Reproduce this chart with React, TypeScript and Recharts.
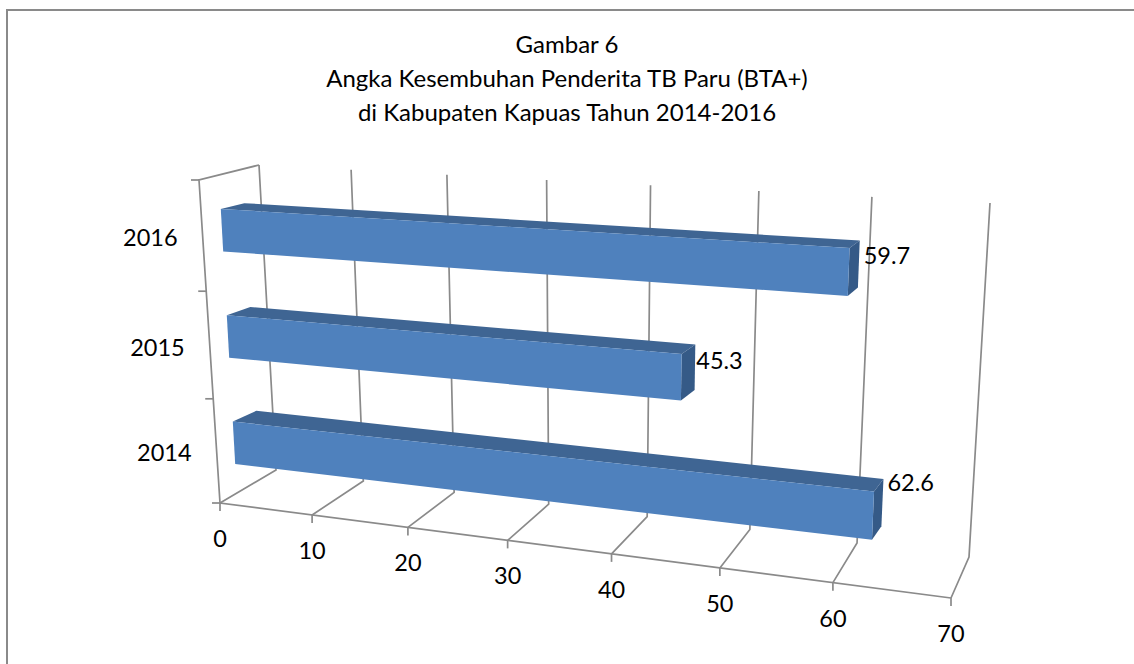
import { BarChart, Bar, XAxis, YAxis, LabelList } from "recharts";

const years = ["2014", "2015", "2016"];
const cureRates = [62.6, 45.3, 59.7];
const valueTicks = [0, 10, 20, 30, 40, 50, 60, 70];
const titleLines = [
  "Gambar 6",
  "Angka Kesembuhan Penderita TB Paru (BTA+)",
  "di Kabupaten Kapuas Tahun 2014-2016",
];

const data = years.map((year, i) => ({ year, rate: cureRates[i] }));

// flat plot area recharts lays out, everything is projected from here
const W = 1134;
const H = 664;
const PLOT = { left: 100, top: 100, width: 700, height: 300 };
const GRID = "#8a8a8a";

type Pt = [number, number];

// foreshortening along the value axis
const persp = (t: number, w = 0.865) => (t * w) / (1 - t + t * w);
const mix = (a: Pt, b: Pt, t: number): Pt => [a[0] + (b[0] - a[0]) * t, a[1] + (b[1] - a[1]) * t];
const quad = (tl: Pt, tr: Pt, bl: Pt, br: Pt, p: number, v: number) =>
  mix(mix(bl, br, p), mix(tl, tr, p), v);
const path = (pts: Pt[]) => "M" + pts.map((q) => `${q[0]},${q[1]}`).join("L") + "Z";

const toP = (x: number) => persp((x - PLOT.left) / PLOT.width);
const toV = (y: number) => 1 - (y - PLOT.top) / PLOT.height;

// front and back planes of the bars
const front = (p: number, v: number) => quad([219, 177], [977, 219], [237, 496], [957, 587], p, v);
const back = (p: number, v: number) => quad([242.5, 172], [984.5, 212], [260.5, 483.5], [964.5, 572.5], p, v);

// floor and walls of the box
const FLOOR_FRONT: [Pt, Pt] = [[220, 503], [951, 598]];
const FLOOR_BACK: [Pt, Pt] = [[276, 470], [969, 557]];
const WALL_TOP: [Pt, Pt] = [[259, 165], [990, 203]];
const LEFT_TOP: Pt = [199, 180];

function Box3D(props: any) {
  const { x, y, width, height } = props;
  const p0 = toP(x);
  const p1 = toP(x + width);
  const vt = toV(y);
  const vb = toV(y + height);
  return (
    <g>
      <path d={path([front(p0, vt), front(p1, vt), back(p1, vt), back(p0, vt)])} fill="#3F6593" />
      <path d={path([front(p1, vt), back(p1, vt), back(p1, vb), front(p1, vb)])} fill="#355A87" />
      <path d={path([front(p0, vt), front(p1, vt), front(p1, vb), front(p0, vb)])} fill="#4F81BD" />
    </g>
  );
}

function ValueTick(props: any) {
  const { x, payload, index } = props;
  const p = toP(x);
  const f = mix(FLOOR_FRONT[0], FLOOR_FRONT[1], p);
  const b = mix(FLOOR_BACK[0], FLOOR_BACK[1], p);
  const t = mix(WALL_TOP[0], WALL_TOP[1], p);
  const line = { stroke: GRID, strokeWidth: 1.7, fill: "none" };
  return (
    <g>
      {index === 0 && (
        <polyline points={`${WALL_TOP[0]} ${LEFT_TOP} ${FLOOR_FRONT[0]} ${FLOOR_FRONT[1]}`} {...line} />
      )}
      <polyline points={`${f} ${f[0]},${f[1] + 8}`} {...line} />
      <polyline points={`${f} ${b} ${t}`} {...line} />
      <text x={f[0]} y={f[1] + 44} textAnchor="middle" fontSize={23.5} fill="#000">
        {payload.value}
      </text>
    </g>
  );
}

function YearTick(props: any) {
  const { y, payload, index } = props;
  const band = PLOT.height / years.length;
  const edge = (fy: number): Pt => {
    const fromTop = persp((fy - PLOT.top) / PLOT.height, 1.05);
    return mix(LEFT_TOP, FLOOR_FRONT[0], fromTop);
  };
  const low = edge(y + band / 2);
  const up = edge(y - band / 2);
  const c = mix(low, up, 0.5);
  const line = { stroke: GRID, strokeWidth: 1.7 };
  return (
    <g>
      <line x1={low[0] - 8} y1={low[1]} x2={low[0]} y2={low[1]} {...line} />
      {index === years.length - 1 && (
        <line x1={up[0] - 8} y1={up[1]} x2={up[0]} y2={up[1]} {...line} />
      )}
      <text x={c[0] - 25} y={c[1] + 10.5} textAnchor="end" fontSize={23.5} fill="#000">
        {payload.value}
      </text>
    </g>
  );
}

// label offsets from the bar's back corner, the 2014 one sits higher in the source
const LABEL_SHIFT: Record<string, Pt> = { "59.7": [4, 23], "45.3": [1, 24], "62.6": [4, 12] };

function EndLabel(props: any) {
  const { x, y, width, value } = props;
  const c = back(toP(x + width), toV(y));
  const s = LABEL_SHIFT[String(value)];
  return (
    <text x={c[0] + s[0]} y={c[1] + s[1]} fontSize={23.5} fill="#000">
      {value}
    </text>
  );
}

const layer = { position: "absolute", left: 0, top: 0 } as const;

export default function App() {
  return (
    <div
      style={{
        position: "absolute",
        left: 0,
        top: 0,
        width: W,
        height: H,
        overflow: "hidden",
        background: "#fff",
        fontFamily: "Lato, sans-serif",
      }}
    >
      <div
        style={{
          position: "absolute",
          left: 6,
          top: 9,
          right: 0,
          bottom: 0,
          borderLeft: "2px solid #8a8a8a",
          borderTop: "2px solid #8a8a8a",
        }}
      />
      <div
        style={{
          position: "absolute",
          left: 0,
          width: W,
          top: 27,
          textAlign: "center",
          fontSize: 24,
          lineHeight: "34px",
          color: "#000",
        }}
      >
        {titleLines.map((t) => (
          <div key={t}>{t}</div>
        ))}
      </div>

      {/* box and axes go in a chart of their own, recharts paints axes above bars otherwise */}
      <div style={layer}>
        <BarChart
          width={W}
          height={H}
          data={data}
          layout="vertical"
          margin={{
            left: PLOT.left - 1,
            top: PLOT.top,
            right: W - PLOT.left - PLOT.width,
            bottom: H - PLOT.top - PLOT.height - 1,
          }}
        >
          <XAxis
            type="number"
            domain={[0, 70]}
            ticks={valueTicks}
            interval={0}
            height={1}
            axisLine={false}
            tickLine={false}
            tick={ValueTick}
          />
          <YAxis
            type="category"
            dataKey="year"
            reversed
            width={1}
            interval={0}
            axisLine={false}
            tickLine={false}
            tick={YearTick}
          />
          {/* unpainted, the number axis draws no ticks without a series */}
          <Bar dataKey="rate" isAnimationActive={false} fill="none" />
        </BarChart>
      </div>

      <div style={layer}>
        <BarChart
          width={W}
          height={H}
          data={data}
          layout="vertical"
          barSize={40}
          margin={{
            left: PLOT.left,
            top: PLOT.top,
            right: W - PLOT.left - PLOT.width,
            bottom: H - PLOT.top - PLOT.height,
          }}
        >
          <XAxis type="number" domain={[0, 70]} hide />
          <YAxis type="category" dataKey="year" reversed hide />
          <Bar dataKey="rate" isAnimationActive={false} shape={Box3D}>
            <LabelList dataKey="rate" content={EndLabel} />
          </Bar>
        </BarChart>
      </div>
    </div>
  );
}
